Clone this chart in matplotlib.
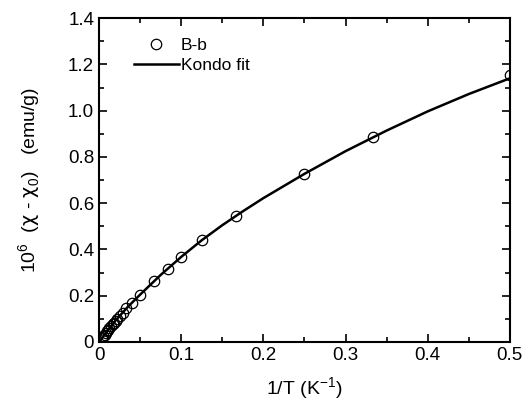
import numpy as np
import matplotlib
matplotlib.use('Agg')
import matplotlib.pyplot as plt
from matplotlib.ticker import MultipleLocator, FuncFormatter

plt.rcParams['font.family'] = ['Liberation Sans', 'DejaVu Sans']
plt.rcParams['mathtext.fontset'] = 'custom'
plt.rcParams['mathtext.rm'] = 'Liberation Sans'
plt.rcParams['mathtext.it'] = 'DejaVu Sans'

# measured points, sample B-b
inv_t = [0.5, 0.3333, 0.25, 0.1667, 0.125, 0.1, 0.0833, 0.0667, 0.05, 0.04,
         0.0333, 0.0286, 0.025, 0.0222, 0.02, 0.0182, 0.0167, 0.0143, 0.0125,
         0.0111, 0.01, 0.0083, 0.0067, 0.005, 0.004, 0.0033]
chi = [1.153, 0.885, 0.726, 0.545, 0.44, 0.366, 0.315, 0.263, 0.205, 0.168,
       0.145, 0.127, 0.113, 0.101, 0.092, 0.084, 0.077, 0.067, 0.059,
       0.053, 0.048, 0.040, 0.032, 0.024, 0.019, 0.016]

# Kondo fit curve
fit_x = [0.0, 0.01, 0.02, 0.035, 0.05, 0.075, 0.1, 0.125, 0.15, 0.175, 0.2,
         0.25, 0.3, 0.35, 0.4, 0.45, 0.5]
fit_y = [0.0, 0.048, 0.093, 0.152, 0.205, 0.29, 0.368, 0.44, 0.505, 0.565, 0.622,
         0.727, 0.825, 0.914, 0.997, 1.072, 1.14]

fig = plt.figure(figsize=(5.30, 4.13), dpi=100)
ax = fig.add_axes([0.187, 0.172, 0.775, 0.784])

ax.plot(inv_t, chi, 'o', mfc='none', mec='black', ms=7.5, mew=0.9, label='B-b')
ax.plot(fit_x, fit_y, 'k-', lw=1.8, label='Kondo fit')

ax.set_xlim(0, 0.5)
ax.set_ylim(0, 1.4)
ax.xaxis.set_major_locator(MultipleLocator(0.1))
ax.xaxis.set_minor_locator(MultipleLocator(0.05))
ax.yaxis.set_major_locator(MultipleLocator(0.2))
ax.yaxis.set_minor_locator(MultipleLocator(0.1))
ax.xaxis.set_major_formatter(FuncFormatter(lambda v, p: '0' if abs(v) < 1e-9 else '%.1f' % v))
ax.yaxis.set_major_formatter(FuncFormatter(lambda v, p: '0' if abs(v) < 1e-9 else '%.1f' % v))
ax.tick_params(which='both', direction='in', top=True, right=True, width=1.2, labelsize=13.5)
ax.tick_params(which='major', length=6)
ax.tick_params(which='minor', length=3.5)
for s in ax.spines.values():
    s.set_linewidth(1.5)

ax.set_xlabel(r'1/T (K$^{\mathrm{-1}}$)', fontsize=14, labelpad=8)
ax.set_ylabel(r'10$^{\mathrm{6}}$  ($\chi$ - $\chi_{\mathrm{0}}$)   (emu/g)', fontsize=14, labelpad=18)

ax.legend(loc='upper left', frameon=False, fontsize=12.5, handlelength=2.6,
          handletextpad=0.1, bbox_to_anchor=(0.055, 0.977), borderaxespad=0.3, labelspacing=0.3)

fig.savefig('out.png', dpi=100)
